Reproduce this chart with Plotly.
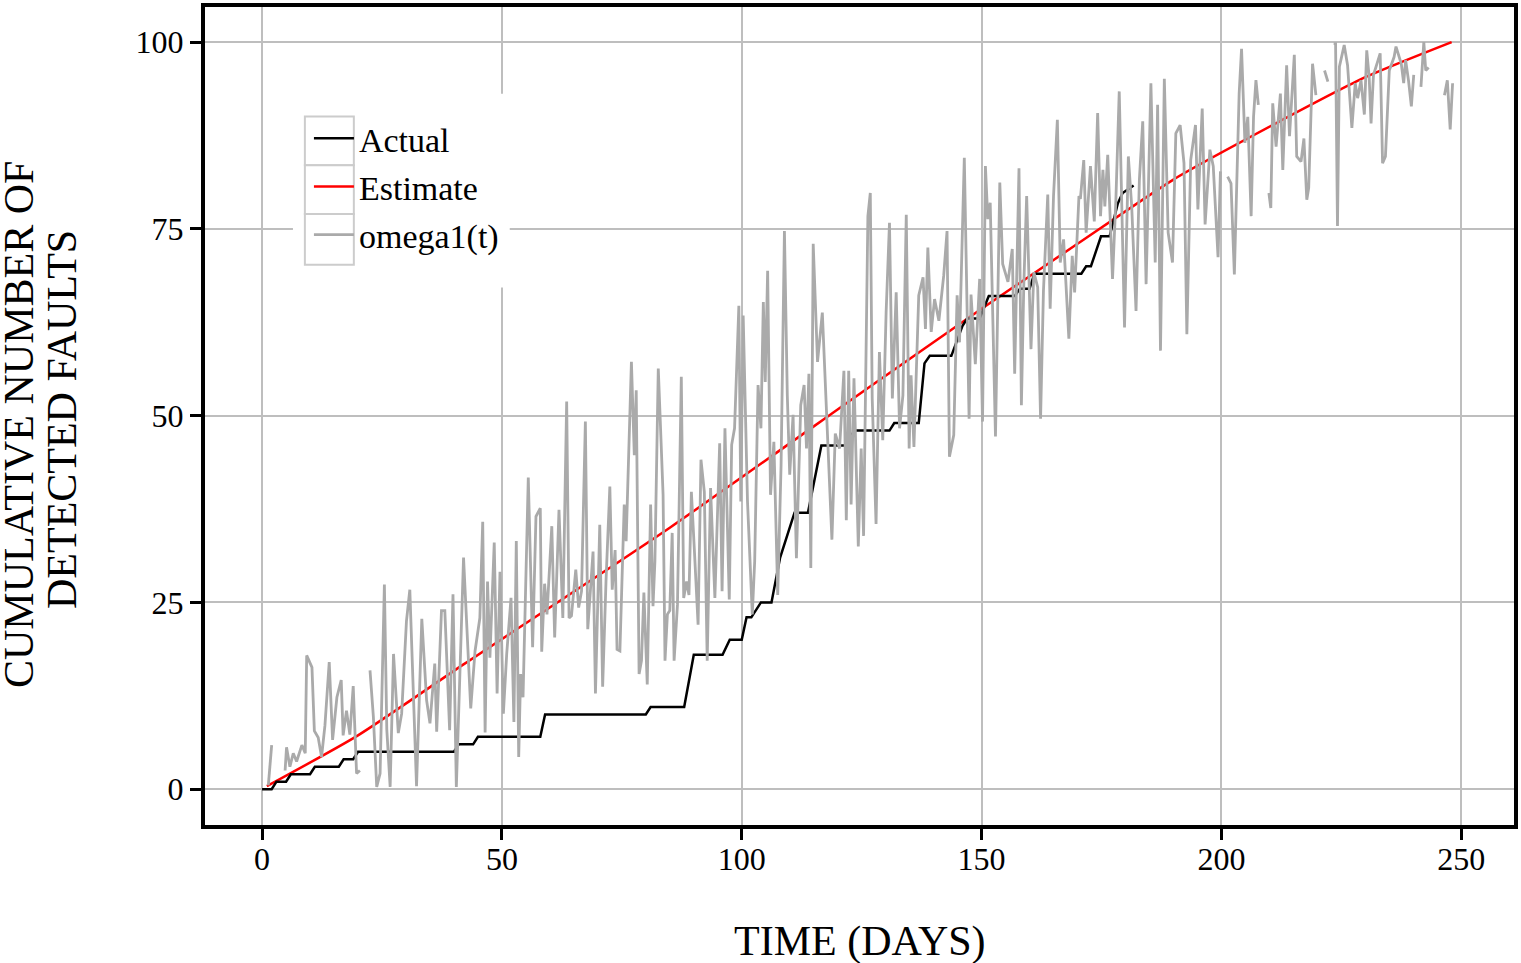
import plotly.graph_objects as go

# cumulative faults actually detected (step breakpoints: day, count)
actual_t = [0, 2, 3, 5, 6, 10, 11, 16, 17, 19, 20, 40, 41, 44, 45, 58, 59, 80, 81, 88, 90,
            96, 97.5, 100, 101, 102, 104, 106.2, 108, 110, 111, 113.8, 116.6, 121.5, 123.5,
            130.8, 131.8, 136.9, 138.1, 139.2, 143.7, 146, 147, 149.6, 151.5, 156.9, 158,
            160, 161, 170.8, 171.8, 172.8, 174.9, 176.7, 178.4, 179.4, 181.7]
actual_v = [0, 0, 1, 1, 2, 2, 3, 3, 4, 4, 5, 5, 6, 6, 7, 7, 10, 10, 11, 11, 18,
            18, 20, 20, 23, 23, 25, 25, 31, 35, 37, 37, 46, 46, 48,
            48, 49, 49, 57, 58, 58, 62, 63, 63, 66, 66, 67,
            67, 69, 69, 70, 70, 74, 74, 78.4, 79.8, 80.8]

# estimated mean value function
est_t = [1, 20, 42, 85, 127, 150, 170, 190, 211, 230, 248]
est_v = [0.4, 7.2, 16.7, 35.0, 54.0, 64.3, 73.0, 81.6, 89.0, 95.3, 100.0]

# omega1(t) sample path (None = outside the 0..100 scale)
omega_t = [1.3, 2.0, None, 4.8, 5.1, 5.8, 6.5, 7.2, 8.3, 9.0, 9.3, 10.4, 10.9, 11.7, 12.4, 13.1,
           14.0, 14.7, 15.6, 16.5, 16.9, 17.6, 18.3, 19.0, 19.7, 20.4, None, 22.5, 23.2, 23.9,
           24.6, 25.5, 26.0, 26.7, 27.4, 28.4, 29.1, 30.1, 30.8, 32.2, 33.3, 34.3, 35.0, 36.0,
           36.4, 37.4, 38.1, 39.1, 39.8, 40.5,
           42.0, 43.5, 44.4, 45.4, 46.0, 46.5, 47.0, 47.5, 48.4, 49.0, 49.6, 50.3, 51.0, 51.9,
           52.5, 53.0, 53.5, 53.9, 54.4, 55.5, 56.4, 57.1, 58.0, 58.3, 58.9, 59.4, 60.4, 61.0,
           61.9, 62.7, 63.5, 64.0, 64.5, 65.4, 66.0, 66.6, 67.4, 67.9, 69.0, 69.5, 70.4, 71.0,
           71.7, 72.5, 73.0, 73.6, 74.0, 74.6, 75.5, 75.9, 77.0, 77.6, 78.0, 78.6, 79.1, 79.6,
           80.3, 81.0, 81.5, 81.9, 82.6, 83.6, 84.0, 84.5,
           85.0, 85.5, 85.9, 86.6, 87.4, 87.9, 88.5, 89.0, 89.5, 90.1, 90.9, 91.5, 92.2, 92.8,
           93.5, 94.4, 95.4, 95.9, 96.5, 97.4, 97.9, 98.5, 99.4, 99.8, 100.3, 101.2, 102.2,
           102.7, 103.4, 104.0, 104.5, 104.9, 105.4, 106.0, 106.7, 107.5, 108.2, 108.9, 109.5,
           110.0, 110.7, 111.4, 112.3, 113.0, 113.5, 114.0, 114.4, 114.9, 115.8, 116.8, 118.0,
           118.8, 119.5, 120.4, 121.3, 121.8, 122.3, 122.8, 123.4, 124.3, 124.9, 125.4, 126.3,
           126.8,
           127.2, 128.0, 128.7, 129.4, 130.1, 130.8, 131.4, 132.2, 132.9, 133.6, 134.3, 134.9,
           135.3, 135.9, 136.9, 137.8, 138.3, 138.8, 139.5, 140.2, 141.1, 142.1, 142.8, 143.3,
           144.2, 144.9, 145.4, 146.4, 147.4, 147.8, 148.7, 149.6, 150.2, 150.8, 151.3, 151.8,
           152.9, 153.8, 154.4, 155.5, 156.4, 156.9, 157.8, 158.3, 158.8, 159.4, 160.3, 160.9,
           161.7, 162.3, 162.9, 163.8, 164.3, 165.0, 165.8, 166.4, 167.1, 168.2, 168.9, 169.4,
           170.3,
           170.6, 171.3, 171.8, 172.7, 173.5, 174.2, 174.8, 175.3, 175.7, 176.3, 177.3, 178.0,
           178.7, 179.8, 180.6, 181.3, 182.2, 182.9, 183.6, 184.3, 185.3, 186.2, 186.7, 187.3,
           188.1, 188.9, 189.8, 190.5, 191.4, 192.2, 192.8, 193.6, 194.6, 195.1, 196.0, 196.6,
           197.6, 198.3, 199.3, 199.8, None, 201.3, 202.0, 202.7, 203.7, 204.2, 204.9, 205.5,
           206.2, 206.7, 207.2, 207.7, None, 209.9, 210.3,
           210.7, 211.4, 212.3, 212.8, 213.6, 214.2, 215.2, 215.7, 216.6, 217.2, 217.8, 218.2,
           219.0, 219.7, None, 221.5, 222.2, None, 223.4, 223.8, 224.2, 224.6, 225.6, 226.3,
           227.2, 227.9, 228.4, 229.1, 229.8, 230.3, 230.8, 231.2, 231.7, 233.1, 233.6, 234.2,
           235.0, 236.0, 236.4, 237.5, 238.0, 238.4, 239.0, 239.6, 240.1, None, 241.6, 242.2,
           242.6, 243.2, None, 246.5, 247.1, 247.7, 248.2]
omega_v = [0.5, 5.9, None, 2.5, 5.6, 3.0, 4.8, 3.7, 5.9, 4.8, 17.9, 16.3, 7.8, 6.9, 4.3, 8.5,
           17.0, 6.6, 12.3, 14.6, 7.2, 10.5, 7.3, 13.8, 2.1, 2.5, None, 15.9, 9.7, 0.3,
           2.1, 27.4, 8.0, 0.3, 18.1, 7.5, 10.1, 22.5, 26.7, 0.4, 22.8, 11.9, 8.8, 16.8,
           7.7, 23.9, 23.9, 7.9, 26.1, 0.3,
           31.0, 10.8, 18.5, 22.9, 35.8, 7.6, 27.8, 17.6, 33.0, 12.8, 29.1, 10.1, 18.1, 25.6,
           9.0, 33.2, 4.3, 15.4, 12.3, 41.7, 19.0, 36.5, 37.6, 18.4, 27.5, 23.4, 35.2, 20.3,
           37.4, 22.9, 51.9, 22.9, 23.2, 29.4, 24.3, 26.5, 49.2, 21.4, 31.8, 12.8, 35.4, 13.7,
           27.8, 40.5, 26.7, 32.0, 18.7, 18.5, 38.1, 33.2, 57.2, 44.7, 53.4, 15.4, 17.2, 26.3,
           14.0, 38.1, 24.5, 30.5, 56.3, 39.4, 17.2, 23.4,
           23.9, 34.3, 17.2, 24.7, 55.2, 25.6, 27.8, 26.0, 39.8, 32.3, 22.0, 44.1, 39.8, 17.2,
           40.3, 25.6, 46.3, 26.5, 48.3, 25.4, 46.1, 48.3, 64.7, 38.5, 63.4, 38.5, 23.4,
           30.5, 54.1, 48.3, 65.2, 54.5, 69.4, 39.4, 46.5, 26.0, 43.4, 74.7, 52.7,
           42.1, 50.1, 30.9, 51.4, 54.1, 45.6, 55.6, 29.6, 73.0, 57.2, 63.8, 45.6,
           33.4, 47.6, 45.6, 56.0, 36.0, 56.0, 38.1, 55.0, 32.5, 45.6, 33.9, 76.7,
           79.8,
           52.3, 35.5, 58.5, 46.7, 63.8, 75.8, 52.3, 66.5, 48.3, 52.7, 76.9, 45.6,
           55.4, 45.8, 66.1, 68.5, 61.6, 72.5, 61.2, 65.6, 62.7, 68.7, 74.7, 44.5,
           47.4, 66.1, 59.8, 84.5, 49.6, 66.2, 56.9, 68.3, 49.2, 83.4, 76.3, 78.5,
           47.2, 81.2, 70.3, 67.9, 72.3, 55.6, 83.1, 51.4, 67.4, 79.4, 58.9, 69.2,
           67.2, 49.6, 66.7, 79.6, 64.3, 79.4, 89.6, 70.5, 73.6, 60.3, 71.4, 66.5,
           79.4,
           79.0, 84.2, 74.5, 83.4, 76.0, 90.5, 76.7, 82.9, 78.0, 84.9, 68.3, 78.9,
           93.4, 61.8, 84.7, 78.0, 64.0, 81.6, 89.4, 67.6, 94.5, 70.5, 91.6, 58.7,
           95.1, 74.5, 70.5, 87.8, 88.9, 83.8, 60.9, 84.2, 88.9, 77.6, 91.1, 75.6,
           85.6, 83.4, 71.2, 82.7, None, 82.0, 81.1, 68.9, 93.1, 99.1, 86.5, 90.0,
           76.7, 90.0, 94.9, 91.6, None, 79.8, 77.8,
           91.8, 86.0, 93.1, 82.9, 96.9, 87.4, 98.3, 84.7, 84.0, 87.1, 78.9, 80.5,
           97.1, 92.9, None, 96.2, 94.7, None, 99.8, 99.8, 75.4, 96.7, 99.6, 96.9,
           88.5, 94.5, 92.5, 94.9, 90.3, 98.9, 95.4, 89.1, 95.6, 98.5, 83.8, 84.7,
           96.2, 98.0, 99.4, 97.1, 94.5, 97.6, 94.9, 91.4, 95.6, None, 94.0, 100.0,
           96.2, 96.6, None, 92.9, 94.9, 88.3, 94.5]

x_ticks = [0, 50, 100, 150, 200, 250]
y_ticks = [0, 25, 50, 75, 100]

serif = "Liberation Serif"

fig = go.Figure()

fig.add_trace(go.Scatter(x=est_t, y=est_v, mode="lines", name="Estimate",
                         line=dict(color="#FF0000", width=2.5, shape="spline", smoothing=0.6),
                         legendgroup="b", legendrank=2))
fig.add_trace(go.Scatter(x=actual_t, y=actual_v, mode="lines", name="Actual",
                         line=dict(color="#000000", width=2.5),
                         legendgroup="a", legendrank=1))
fig.add_trace(go.Scatter(x=omega_t, y=omega_v, mode="lines", name="omega1(t)",
                         line=dict(color="#AAAAAA", width=2.8),
                         connectgaps=False, legendgroup="c", legendrank=3))

# white legend background and key boxes (ggplot style)
fig.add_shape(type="rect", xref="paper", yref="paper", x0=0.0672, x1=0.2328, y0=0.657, y1=0.894,
              fillcolor="white", line=dict(width=0), layer="above")
for y0, y1 in [(0.8066, 0.8662), (0.7470, 0.8066), (0.6849, 0.7470)]:
    fig.add_shape(type="rect", xref="paper", yref="paper", x0=0.0763, x1=0.1137, y0=y0, y1=y1,
                  fillcolor="white", line=dict(color="#CCCCCC", width=2), layer="above")

axis_common = dict(showline=True, mirror=True, linecolor="black", linewidth=4,
                   ticks="outside", ticklen=11, tickwidth=3, tickcolor="black",
                   showgrid=True, gridcolor="#BEBEBE", gridwidth=2, zeroline=False,
                   tickfont=dict(family=serif, size=32, color="black"))

fig.update_xaxes(range=[-11.9, 261], tickvals=x_ticks, ticklabelstandoff=-8, **axis_common)
fig.update_yaxes(range=[-4.8, 104.7], tickvals=y_ticks, **axis_common)

title_font = dict(family=serif, size=42, color="black")
fig.add_annotation(text="TIME (DAYS)", xref="paper", yref="paper", x=0.5, y=0,
                   xanchor="center", yanchor="middle", yshift=-116, showarrow=False,
                   font=title_font)
fig.add_annotation(text="CUMULATIVE NUMBER OF", xref="paper", yref="paper", x=0, y=0.5,
                   xanchor="center", yanchor="middle", xshift=-186, yshift=-9,
                   textangle=-90, showarrow=False, font=title_font)
fig.add_annotation(text="DETECTED FAULTS", xref="paper", yref="paper", x=0, y=0.5,
                   xanchor="center", yanchor="middle", xshift=-143, yshift=-4,
                   textangle=-90, showarrow=False, font=title_font)

fig.update_layout(width=1521, height=963,
                  margin=dict(l=205, r=6, t=3, b=138),
                  plot_bgcolor="white", paper_bgcolor="white",
                  font=dict(family=serif, color="black"),
                  legend=dict(x=0.0794, y=0.8745, xanchor="left", yanchor="top",
                              bgcolor="rgba(0,0,0,0)", borderwidth=0,
                              font=dict(family=serif, size=34, color="black"),
                              tracegroupgap=1, itemwidth=40),
                  showlegend=True)

fig.write_html("out.html", config={"displayModeBar": False},
               post_script="document.body.style.margin='0px';")
